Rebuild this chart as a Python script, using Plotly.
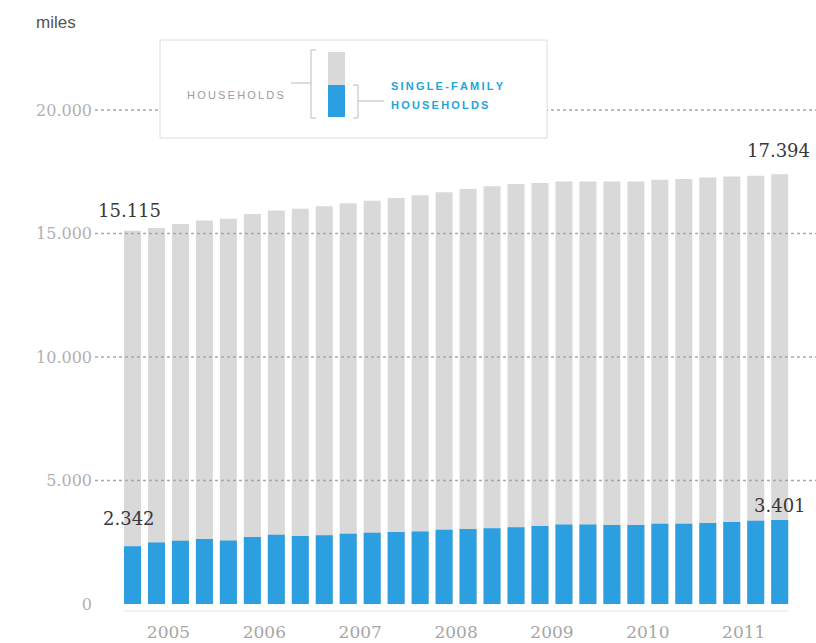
import plotly.graph_objects as go

# Quarterly series, 2005 Q1 through 2011 Q4 (thousands of households)
quarters = [
    "2005 T1", "2005 T2", "2005 T3", "2005 T4",
    "2006 T1", "2006 T2", "2006 T3", "2006 T4",
    "2007 T1", "2007 T2", "2007 T3", "2007 T4",
    "2008 T1", "2008 T2", "2008 T3", "2008 T4",
    "2009 T1", "2009 T2", "2009 T3", "2009 T4",
    "2010 T1", "2010 T2", "2010 T3", "2010 T4",
    "2011 T1", "2011 T2", "2011 T3", "2011 T4",
]
households = [
    15115, 15223, 15385, 15530, 15600, 15790, 15935, 16005,
    16100, 16220, 16330, 16440, 16545, 16665, 16800, 16910,
    17000, 17045, 17110, 17110, 17110, 17110, 17180, 17205,
    17270, 17310, 17340, 17394,
]
single_family = [
    2342, 2494, 2563, 2631, 2575, 2712, 2806, 2752,
    2779, 2846, 2887, 2914, 2940, 3008, 3035, 3062,
    3103, 3157, 3223, 3223, 3196, 3196, 3250, 3250,
    3277, 3318, 3372, 3401,
]
year_labels = ["2005", "2006", "2007", "2008", "2009", "2010", "2011"]
y_ticks = [0, 5000, 10000, 15000, 20000]
y_tick_text = ["0", "5.000", "10.000", "15.000", "20.000"]

GREY = "#d9d9d9"
BLUE = "#2c9fe0"
CYAN = "#1fa6d6"
SERIF = "DejaVu Serif, Georgia, serif"
SANS = "Liberation Sans, Arial, sans-serif"

W, H = 816, 643
L, R, T, B = 95, 0, 100, 39
PW, PH = W - L - R, H - T - B

x_pos = list(range(len(quarters)))
year_pos = [4 * i + 1.5 for i in range(len(year_labels))]


def fmt(v):
    return f"{v:,}".replace(",", ".")


def px(x):
    return (x - L) / PW


def py(y):
    return (H - B - y) / PH


fig = go.Figure()
fig.add_trace(go.Bar(
    x=x_pos, y=households, width=0.71, marker=dict(color=GREY, line=dict(width=0)),
    name="Households", customdata=quarters,
    hovertemplate="%{customdata}: %{y}<extra></extra>",
))
fig.add_trace(go.Bar(
    x=x_pos, y=single_family, width=0.71, marker=dict(color=BLUE, line=dict(width=0)),
    name="Single-family households", customdata=quarters,
    hovertemplate="%{customdata}: %{y}<extra></extra>",
))

shapes = []
# dotted reference lines, drawn over the bars
for v in y_ticks[1:]:
    shapes.append(dict(type="line", xref="paper", yref="y", x0=0, x1=1, y0=v, y1=v,
                       line=dict(color="#a8a8a8", width=1.5, dash="dot"), layer="above"))
# faint baseline under the bars
shapes.append(dict(type="line", xref="x", yref="paper", x0=-0.36, x1=len(quarters) - 1 + 0.36,
                   y0=py(611), y1=py(611), line=dict(color="#f5f1ed", width=2), layer="above"))

# legend panel
def prect(x0, y0, x1, y1, fill, line_color=None, lw=0):
    return dict(type="rect", xref="paper", yref="paper", x0=px(x0), x1=px(x1),
                y0=py(y1), y1=py(y0), fillcolor=fill,
                line=dict(color=line_color or fill, width=lw), layer="above")


def pline(x0, y0, x1, y1, color="#bdbdbd", w=1):
    return dict(type="line", xref="paper", yref="paper", x0=px(x0), x1=px(x1),
                y0=py(y0), y1=py(y1), line=dict(color=color, width=w), layer="above")


shapes.append(prect(160, 40, 547, 138, "white", "#dcdcdc", 1))
shapes.append(prect(328, 52, 345, 85, GREY))
shapes.append(prect(328, 85, 345, 117, BLUE))
# left bracket + lead line
shapes += [pline(311, 50, 311, 118), pline(311, 50, 316, 50), pline(311, 118, 316, 118),
           pline(291, 83, 311, 83)]
# right bracket + lead line
shapes += [pline(358, 85, 358, 118), pline(353, 85, 358, 85), pline(353, 118, 358, 118),
           pline(358, 101, 384, 101)]

thin = "\u2009"
annotations = [
    dict(text="miles", xref="paper", yref="paper", x=px(34), y=py(22), xanchor="left",
         yanchor="middle", showarrow=False, font=dict(family=SANS, size=17, color="#555555")),
    dict(text=thin.join("HOUSEHOLDS"), xref="paper", yref="paper", x=px(235), y=py(95),
         xanchor="center", yanchor="middle", showarrow=False,
         font=dict(family=SANS, size=11, color="#9c9c9c")),
    dict(text="<b>" + thin.join("SINGLE-FAMILY") + "</b>", xref="paper", yref="paper",
         x=px(389), y=py(86), xanchor="left", yanchor="middle", showarrow=False,
         font=dict(family=SANS, size=11, color=CYAN)),
    dict(text="<b>" + thin.join("HOUSEHOLDS") + "</b>", xref="paper", yref="paper",
         x=px(389), y=py(105), xanchor="left", yanchor="middle", showarrow=False,
         font=dict(family=SANS, size=11, color=CYAN)),
]

# value callouts on the first and last quarter
val_font = dict(family=SERIF, size=18, color="#383838")
annotations += [
    dict(x=0, y=households[0], text=fmt(households[0]), xref="x", yref="y", showarrow=False,
         xanchor="center", yanchor="bottom", yshift=8, xshift=-3, font=val_font),
    dict(x=0, y=single_family[0], text=fmt(single_family[0]), xref="x", yref="y", showarrow=False,
         xanchor="center", yanchor="bottom", yshift=15, xshift=-4, font=val_font),
    dict(x=27, y=households[-1], text=fmt(households[-1]), xref="x", yref="y", showarrow=False,
         xanchor="center", yanchor="bottom", yshift=11, xshift=-1, font=val_font),
    dict(x=27, y=single_family[-1], text=fmt(single_family[-1]), xref="x", yref="y",
         showarrow=False, xanchor="center", yanchor="bottom", yshift=2, xshift=0, font=val_font),
]

x_lo = -(132.5 - L) / 23.97
x_hi = x_lo + PW / 23.97

fig.update_layout(
    width=W, height=H, margin=dict(l=L, r=R, t=T, b=B, pad=0),
    paper_bgcolor="white", plot_bgcolor="white",
    barmode="overlay", showlegend=False,
    shapes=shapes, annotations=annotations,
    xaxis=dict(range=[x_lo, x_hi], tickvals=year_pos, ticktext=year_labels,
               showgrid=False, zeroline=False, showline=False, ticks="",
               tickfont=dict(family=SERIF, size=17, color="#a6a6a6"), ticklabelstandoff=16),
    yaxis=dict(range=[0, PH / 0.0247], tickvals=y_ticks, ticktext=y_tick_text,
               showgrid=False, zeroline=False, showline=False, ticks="",
               tickfont=dict(family=SERIF, size=16, color="#b0b0b0"), ticklabelstandoff=2),
)

fig.write_html("out.html")
